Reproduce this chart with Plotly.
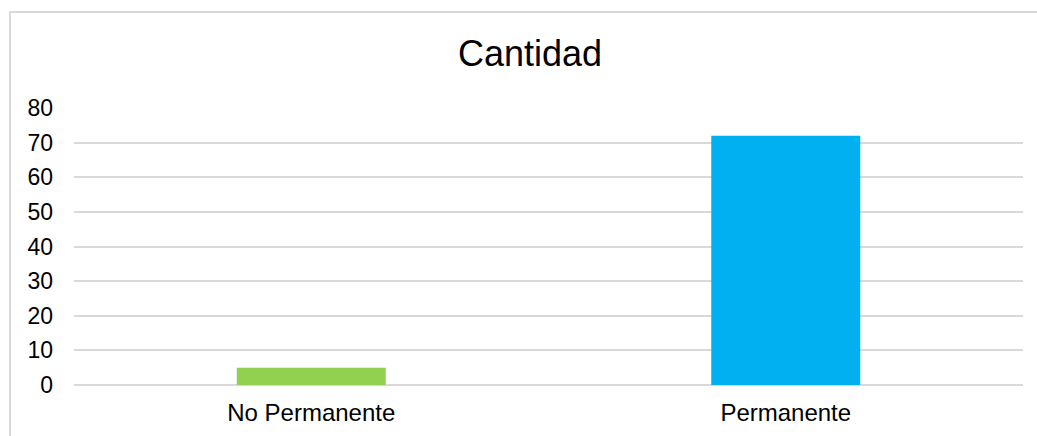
import plotly.graph_objects as go

categories = ["No Permanente", "Permanente"]
values = [5, 72]
bar_colors = ["#92D050", "#00B0F0"]
y_ticks = [0, 10, 20, 30, 40, 50, 60, 70, 80]

W, H = 1037, 436
L, R, T, B = 74, 14, 108, 51
pw, ph = W - L - R, H - T - B

def px_x(p):
    return (p - L) / pw

def px_y(p):
    return (H - B - p) / ph

fig = go.Figure(go.Bar(
    x=categories, y=values, marker=dict(color=bar_colors, line=dict(width=0)),
    width=0.314, hoverinfo="x+y",
))

fig.update_layout(
    width=W, height=H,
    margin=dict(l=L, r=R, t=T, b=B),
    paper_bgcolor="white", plot_bgcolor="white",
    font=dict(family="Liberation Sans, Arial, sans-serif", size=23, color="#000000"),
    title=dict(text="Cantidad", x=530 / W, xanchor="center", xref="container",
               y=1 - 53 / H, yanchor="middle", yref="container",
               font=dict(size=36, color="#000000")),
    showlegend=False,
    xaxis=dict(showgrid=False, showline=False, zeroline=False, ticks="",
               tickfont=dict(size=24), ticklabelstandoff=11, automargin=False),
    yaxis=dict(range=[0, 80], tickvals=y_ticks, showgrid=True, gridcolor="#D9D9D9",
               gridwidth=1.5, zeroline=True, zerolinecolor="#D9D9D9", zerolinewidth=1.5,
               showline=False, ticks="", tickfont=dict(size=23), ticklabelstandoff=20,
               automargin=False),
    shapes=[
        dict(type="line", xref="paper", yref="paper",
             x0=px_x(9), x1=px_x(1040), y0=px_y(12), y1=px_y(12),
             line=dict(color="#D9D9D9", width=2)),
        dict(type="line", xref="paper", yref="paper",
             x0=px_x(10), x1=px_x(10), y0=px_y(12), y1=px_y(440),
             line=dict(color="#D9D9D9", width=2)),
    ],
)

fig.write_html("out.html",
               config={"displayModeBar": False},
               post_script="document.body.style.margin='0';document.body.style.overflow='hidden';")
